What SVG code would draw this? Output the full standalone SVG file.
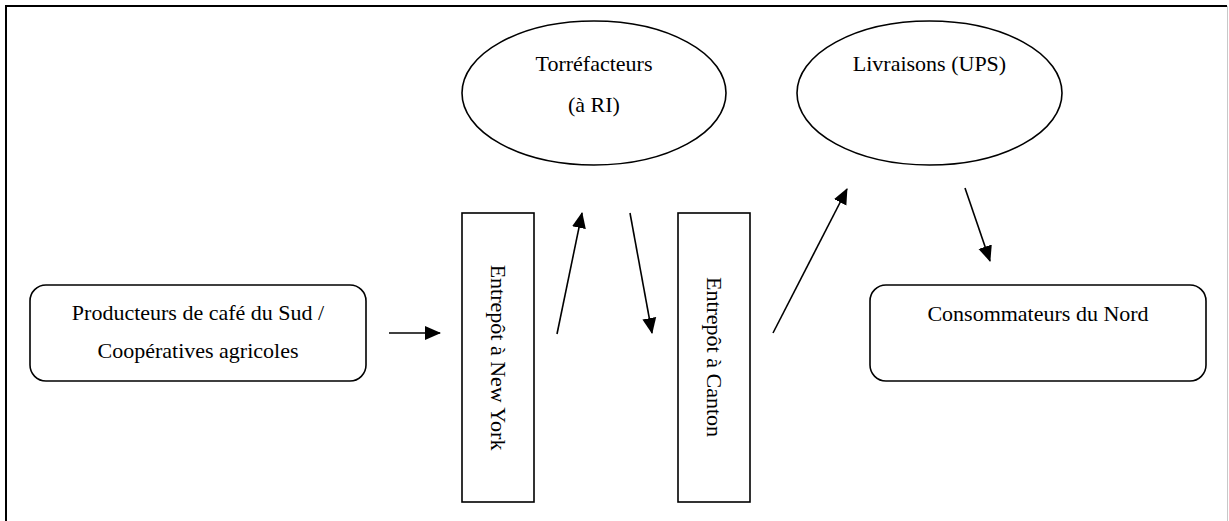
<svg xmlns="http://www.w3.org/2000/svg" width="1229" height="521" viewBox="0 0 1229 521">
  <style>
    .shape { fill: #fff; stroke: #000; stroke-width: 1.6; }
    .label { font-family: "Liberation Serif", "Times New Roman", serif; font-size: 22px; fill: #000; text-anchor: middle; }
    .link { fill: none; stroke: #000; stroke-width: 1.6; marker-end: url(#head); }
  </style>
  <defs>
    <marker id="head" markerUnits="userSpaceOnUse" markerWidth="16" markerHeight="16" viewBox="0 0 16 16" refX="15" refY="8" orient="auto">
      <path d="M0,1 L16,8 L0,15 Z" fill="#000"/>
    </marker>
  </defs>

  <rect width="1229" height="521" fill="#fff"/>

  <!-- page frame -->
  <path d="M6,521 V6 H1227" fill="none" stroke="#000" stroke-width="2"/>
  <line x1="1227.5" y1="6" x2="1227.5" y2="521" stroke="#c8c8c8" stroke-width="1"/>

  <g id="producteurs">
    <rect class="shape" x="30" y="285" width="336" height="96" rx="16"/>
    <text class="label" x="198" y="320">Producteurs de café du Sud /</text>
    <text class="label" x="198" y="358">Coopératives agricoles</text>
  </g>

  <g id="entrepot-new-york">
    <rect class="shape" x="462" y="213" width="72" height="289"/>
    <text class="label" transform="translate(491,357.5) rotate(90)">Entrepôt à New York</text>
  </g>

  <g id="torrefacteurs">
    <ellipse class="shape" cx="594" cy="93" rx="132" ry="72"/>
    <text class="label" x="594" y="71">Torréfacteurs</text>
    <text class="label" x="594" y="112">(à RI)</text>
  </g>

  <g id="entrepot-canton">
    <rect class="shape" x="678" y="213" width="72" height="289"/>
    <text class="label" transform="translate(707,357) rotate(90)">Entrepôt à Canton</text>
  </g>

  <g id="livraisons">
    <ellipse class="shape" cx="929.5" cy="93" rx="132.5" ry="72"/>
    <text class="label" x="929.5" y="71">Livraisons (UPS)</text>
  </g>

  <g id="consommateurs">
    <rect class="shape" x="870" y="285" width="336" height="96" rx="16"/>
    <text class="label" x="1038" y="321">Consommateurs du Nord</text>
  </g>

  <g id="connectors">
    <line class="link" x1="389" y1="333" x2="440" y2="333"/>
    <line class="link" x1="557" y1="334" x2="582" y2="213"/>
    <line class="link" x1="630" y1="213" x2="652" y2="333"/>
    <line class="link" x1="773" y1="333" x2="847" y2="189"/>
    <line class="link" x1="965" y1="188" x2="990" y2="261"/>
  </g>
</svg>
